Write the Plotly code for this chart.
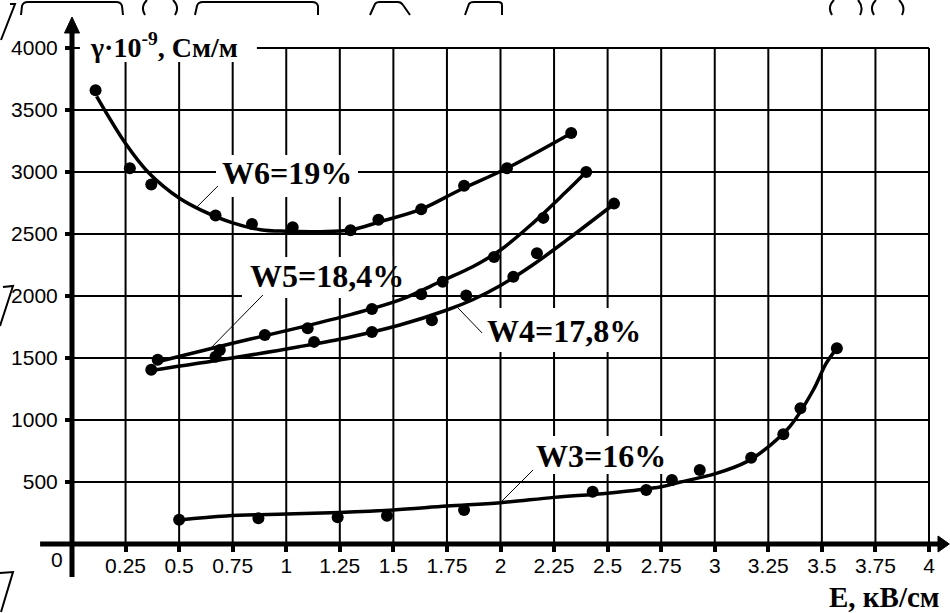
import plotly.graph_objects as go

# ---------------- data ----------------
x_ticks = [0.25, 0.5, 0.75, 1, 1.25, 1.5, 1.75, 2, 2.25, 2.5, 2.75, 3, 3.25, 3.5, 3.75, 4]
x_tick_labels = ["0.25", "0.5", "0.75", "1", "1.25", "1.5", "1.75", "2", "2.25", "2.5",
                 "2.75", "3", "3.25", "3.5", "3.75", "4"]
y_ticks = [500, 1000, 1500, 2000, 2500, 3000, 3500, 4000]
y_tick_labels = ["500", "1000", "1500", "2000", "2500", "3000", "3500", "4000"]

# measured points
w6_x = [0.11, 0.27, 0.37, 0.67, 0.84, 1.03, 1.30, 1.43, 1.63, 1.83, 2.03, 2.33]
w6_y = [3660, 3030, 2900, 2650, 2580, 2555, 2530, 2615, 2700, 2890, 3030, 3315]
w5_x = [0.40, 0.69, 0.90, 1.10, 1.40, 1.63, 1.73, 1.97, 2.20, 2.40]
w5_y = [1485, 1565, 1685, 1740, 1895, 2015, 2115, 2315, 2630, 3000]
w4_x = [0.37, 0.67, 1.13, 1.40, 1.68, 1.84, 2.06, 2.17, 2.53]
w4_y = [1405, 1510, 1630, 1710, 1805, 2005, 2155, 2345, 2745]
w3_x = [0.50, 0.87, 1.24, 1.47, 1.83, 2.43, 2.68, 2.80, 2.93, 3.17, 3.32, 3.40, 3.57]
w3_y = [195, 207, 215, 228, 274, 422, 435, 516, 597, 695, 885, 1094, 1578]

# fitted curves
w6_fit_x = [0.115, 0.25, 0.36, 0.50, 0.60, 0.75, 0.88, 1.00, 1.16, 1.30, 1.44, 1.63, 1.81, 2.03, 2.33]
w6_fit_y = [3610, 3230, 2990, 2790, 2695, 2590, 2535, 2522, 2519, 2532, 2600, 2700, 2855, 3030, 3312]
w5_fit_x = [0.40, 0.74, 1.06, 1.30, 1.53, 1.73, 1.87, 2.00, 2.15, 2.30, 2.40]
w5_fit_y = [1470, 1615, 1745, 1850, 1968, 2125, 2236, 2371, 2586, 2830, 3000]
w4_fit_x = [0.37, 0.74, 1.06, 1.30, 1.53, 1.75, 1.87, 2.00, 2.15, 2.31, 2.53]
w4_fit_y = [1400, 1498, 1591, 1670, 1766, 1887, 1970, 2085, 2250, 2452, 2742]
w3_fit_x = [0.50, 0.72, 1.00, 1.25, 1.50, 1.75, 2.00, 2.25, 2.50, 2.75, 2.84, 3.00, 3.15, 3.26, 3.35, 3.46, 3.52, 3.57]
w3_fit_y = [194, 226, 242, 255, 275, 306, 333, 376, 410, 462, 500, 565, 664, 798, 946, 1242, 1457, 1578]

series_labels = ["W6=19%", "W5=18,4%", "W4=17,8%", "W3=16%"]
y_title = "γ·10<sup>-9</sup>, См/м"
x_title = "E, кВ/см"

# ---------------- figure ----------------
W, H = 950, 613
X_RANGE = [-0.33606, 4.09802]
Y_RANGE = [-556.45, 4387.1]

SERIF = "Liberation Serif, Times New Roman, serif"
SANS = "Liberation Sans, Arial, sans-serif"

fig = go.Figure()

for fx, fy in [(w6_fit_x, w6_fit_y), (w5_fit_x, w5_fit_y), (w4_fit_x, w4_fit_y), (w3_fit_x, w3_fit_y)]:
    fig.add_trace(go.Scatter(x=fx, y=fy, mode="lines",
                             line=dict(color="black", width=3.5, shape="spline", smoothing=1.0),
                             hoverinfo="skip", showlegend=False))
for px_, py_ in [(w6_x, w6_y), (w5_x, w5_y), (w4_x, w4_y), (w3_x, w3_y)]:
    fig.add_trace(go.Scatter(x=px_, y=py_, mode="markers",
                             marker=dict(color="black", size=12, line=dict(width=0)),
                             hoverinfo="skip", showlegend=False))

shapes = []
# grid
for xv in x_ticks:
    shapes.append(dict(type="line", xref="x", yref="y", x0=xv, x1=xv, y0=0, y1=max(y_ticks),
                       line=dict(color="black", width=2), layer="below"))
for yv in y_ticks:
    shapes.append(dict(type="line", xref="x", yref="y", x0=0, x1=max(x_ticks), y0=yv, y1=yv,
                       line=dict(color="black", width=2), layer="below"))

# white label boxes (cover the grid)
boxes = [
    (0.037, 0.863, 3887, 4210),   # axis title
    (0.672, 1.335, 2798, 3137),   # W6
    (0.793, 1.494, 1984, 2315),   # W5
    (1.914, 2.674, 1548, 1903),   # W4
    (2.138, 2.782, 565, 871),     # W3
]
for x0, x1, y0, y1 in boxes:
    shapes.append(dict(type="rect", xref="x", yref="y", x0=x0, x1=x1, y0=y0, y1=y1,
                       fillcolor="white", line=dict(width=0), layer="below"))

# axes with arrows
shapes.append(dict(type="line", xref="x", yref="y", x0=-0.149, x1=4.06, y0=0, y1=0,
                   line=dict(color="black", width=5), layer="below"))
shapes.append(dict(type="line", xref="x", yref="y", x0=0, x1=0, y0=-266, y1=4145,
                   line=dict(color="black", width=5), layer="below"))
shapes.append(dict(type="path", xref="x", yref="y",
                   path="M 4.042 64.5 L 4.095 0 L 4.042 -64.5 Z",
                   fillcolor="black", line=dict(color="black", width=1), layer="below"))
shapes.append(dict(type="path", xref="x", yref="y",
                   path="M -0.035 4121 L 0 4250 L 0.035 4121 Z",
                   fillcolor="black", line=dict(color="black", width=1), layer="below"))

# label pointer lines
pointers = [
    (0.681, 2887, 0.583, 2718),
    (0.891, 2008, 0.653, 1589),
    (1.914, 1702, 1.802, 1903),
    (2.152, 597, 2.007, 347),
]
for x0, y0, x1, y1 in pointers:
    shapes.append(dict(type="line", xref="x", yref="y", x0=x0, y0=y0, x1=x1, y1=y1,
                       line=dict(color="black", width=1), layer="above"))


# scan artefacts around the edges (pixel paths converted to paper coords)
def pp(cmds):
    out = []
    for c in cmds:
        if isinstance(c, str):
            out.append(c)
        else:
            out.append(f"{c[0] / W:.5f},{1 - c[1] / H:.5f}")
    return " ".join(out)


artefacts = [
    ["M", (10, 4), "L", (15, 4), "L", (1, 40)],
    ["M", (21, 15), "L", (22, 6), "Q", (23, 2), (28, 2), "L", (116, 2), "Q", (121, 2), (122, 6), "L", (123, 15)],
    ["M", (147, 0), "Q", (140, 7), (145, 15)],
    ["M", (173, 0), "Q", (180, 7), (175, 15)],
    ["M", (195, 15), "L", (197, 6), "Q", (198, 2), (203, 2), "L", (312, 2), "Q", (317, 2), (318, 6), "L", (318, 15)],
    ["M", (370, 15), "L", (375, 4), "Q", (376, 2), (380, 2), "L", (398, 2), "Q", (401, 2), (403, 5), "L", (410, 15)],
    ["M", (465, 15), "L", (469, 4), "Q", (470, 2), (474, 2), "L", (498, 2), "Q", (502, 2), (502, 5), "L", (502, 15)],
    ["M", (834, 0), "Q", (827, 7), (832, 15)],
    ["M", (858, 0), "Q", (864, 7), (860, 15)],
    ["M", (876, 0), "Q", (869, 7), (874, 15)],
    ["M", (899, 0), "Q", (906, 7), (902, 15)],
    ["M", (3, 287), "L", (13, 286), "L", (0, 326)],
    ["M", (0, 573), "L", (13, 572), "L", (1, 612)],
]
for a in artefacts:
    shapes.append(dict(type="path", xref="paper", yref="paper", path=pp(a),
                       line=dict(color="black", width=2), layer="above"))

annotations = []
label_pos = [(1.0035, 2992), (1.19, 2161), (2.296, 1714), (2.471, 706)]
for txt, (ax_, ay_) in zip(series_labels, label_pos):
    annotations.append(dict(x=ax_, y=ay_, xref="x", yref="y", text=f"<b>{txt}</b>",
                            showarrow=False, xanchor="center", yanchor="middle",
                            font=dict(family=SERIF, size=32, color="black")))
annotations.append(dict(x=0.0747, y=4024, xref="x", yref="y", text=f"<b>{y_title}</b>",
                        showarrow=False, xanchor="left", yanchor="middle",
                        font=dict(family=SERIF, size=28, color="black")))
annotations.append(dict(x=4.06, y=-430, xref="x", yref="y", text=f"<b>{x_title}</b>",
                        showarrow=False, xanchor="right", yanchor="middle",
                        font=dict(family=SERIF, size=29, color="black")))
annotations.append(dict(x=-0.035, y=-125, xref="x", yref="y", text="0",
                        showarrow=False, xanchor="right", yanchor="middle",
                        font=dict(family=SANS, size=21, color="black")))

fig.update_layout(
    width=W, height=H, autosize=False,
    margin=dict(l=0, r=0, t=0, b=0, pad=0),
    paper_bgcolor="white", plot_bgcolor="white",
    template="none",
    shapes=shapes, annotations=annotations,
    xaxis=dict(range=X_RANGE, anchor="free", position=1 - 544 / H,
               tickvals=x_ticks, ticktext=x_tick_labels,
               ticks="outside", ticklen=7, tickwidth=4, tickcolor="black",
               ticklabelstandoff=-4,
               showgrid=False, zeroline=False, showline=False, automargin=False,
               tickfont=dict(family=SANS, size=21, color="black"), fixedrange=True),
    yaxis=dict(range=Y_RANGE, anchor="free", position=72 / W,
               tickvals=y_ticks, ticktext=y_tick_labels,
               ticks="outside", ticklen=7, tickwidth=4, tickcolor="black",
               ticklabelstandoff=3,
               showgrid=False, zeroline=False, showline=False, automargin=False,
               tickfont=dict(family=SANS, size=21, color="black"), fixedrange=True),
    showlegend=False,
)

fig.write_html("out.html", config={"displayModeBar": False, "staticPlot": True},
               post_script="document.body.style.margin='0px';document.body.style.overflow='hidden';")
